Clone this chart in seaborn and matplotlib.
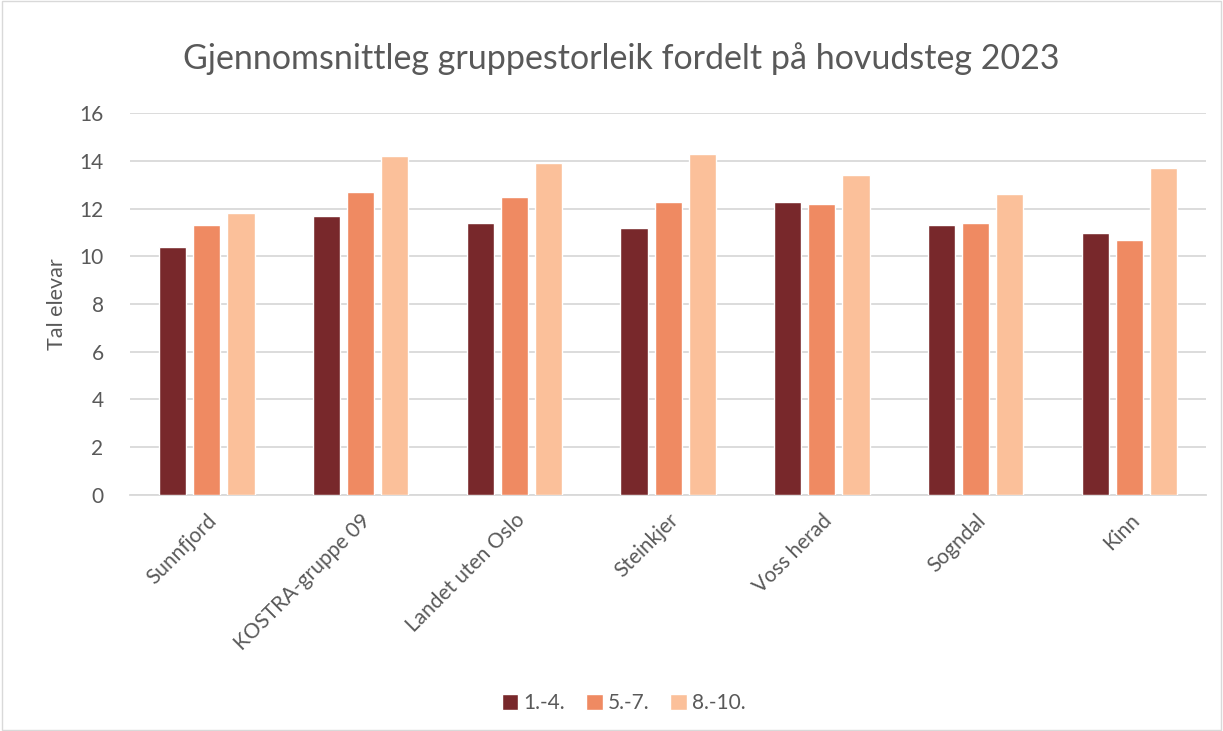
import seaborn as sns
import matplotlib.pyplot as plt
import pandas as pd
from matplotlib.patches import Rectangle

# Data
kommunar = ["Sunnfjord", "KOSTRA-gruppe 09", "Landet uten Oslo", "Steinkjer",
            "Voss herad", "Sogndal", "Kinn"]
steg = ["1.-4.", "5.-7.", "8.-10."]
steg_1_4 = [10.4, 11.7, 11.4, 11.2, 12.3, 11.3, 11.0]
steg_5_7 = [11.3, 12.7, 12.5, 12.3, 12.2, 11.4, 10.7]
steg_8_10 = [11.8, 14.2, 13.9, 14.3, 13.4, 12.6, 13.7]
farger = ["#78282B", "#EF8A62", "#FBC09A"]

df = pd.DataFrame({
    "kommune": kommunar * 3,
    "steg": [s for s in steg for _ in kommunar],
    "verdi": steg_1_4 + steg_5_7 + steg_8_10,
})

sns.set_style("white")
plt.rcParams["font.family"] = ["Lato", "DejaVu Sans"]
grey = "#595959"

fig = plt.figure(figsize=(12.23, 7.31), dpi=100)
ax = fig.add_axes([0.1063, 0.323, 0.880, 0.522])

sns.barplot(data=df, x="kommune", y="verdi", hue="steg", palette=farger,
            width=0.664, gap=0.2, saturation=1, ax=ax, zorder=3)

ax.set_ylim(0, 16)
ax.set_yticks(range(0, 17, 2))
ax.yaxis.grid(True, color="#D9D9D9", linewidth=1.3, zorder=0)
ax.set_axisbelow(True)
for s in ["left", "right", "top"]:
    ax.spines[s].set_visible(False)
ax.spines["bottom"].set_color("#D9D9D9")
ax.spines["bottom"].set_linewidth(1.3)
ax.tick_params(axis="both", length=0, colors=grey, labelsize=15)
ax.tick_params(axis="y", pad=19)
ax.tick_params(axis="x", pad=11)
plt.setp(ax.get_xticklabels(), rotation=45, ha="right", rotation_mode="anchor")

ax.set_xlabel("")
ax.set_ylabel("Tal elevar", fontsize=15.5, color=grey, labelpad=9)
fig.suptitle("Gjennomsnittleg gruppestorleik fordelt på hovudsteg 2023",
             fontsize=24.5, color=grey, y=0.942, x=0.508)

ax.legend(loc="center", bbox_to_anchor=(0.51, 0.038), bbox_transform=fig.transFigure,
          ncol=3, frameon=False, fontsize=15, labelcolor=grey, handlelength=0.8,
          handleheight=0.8, handletextpad=0.25, columnspacing=1.0)

fig.patches.append(Rectangle((0.002, 0.002), 0.996, 0.996, transform=fig.transFigure,
                             fill=False, edgecolor="#D9D9D9", linewidth=1))

fig.savefig("out.png", dpi=100)
